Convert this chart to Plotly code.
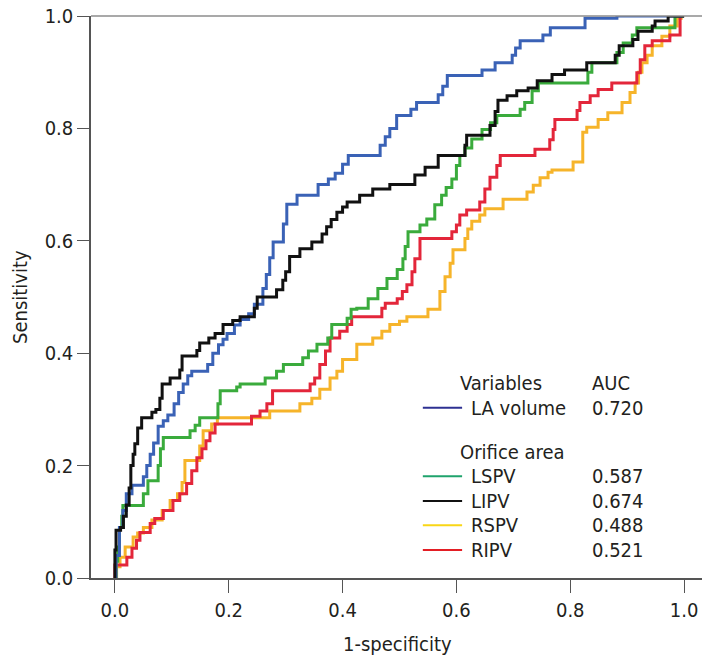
import plotly.graph_objects as go

# ROC curves: (1-specificity, sensitivity) corner points, drawn as steps
la_fpr = [0, 0.002, 0.008, 0.014, 0.02, 0.03, 0.05, 0.056, 0.062, 0.068, 0.076, 0.085, 0.093, 0.104, 0.112, 0.12, 0.128, 0.135, 0.163, 0.172, 0.182, 0.19, 0.197, 0.21, 0.22, 0.235, 0.245, 0.26, 0.266, 0.272, 0.278, 0.296, 0.302, 0.32, 0.357, 0.375, 0.387, 0.40, 0.41, 0.466, 0.475, 0.483, 0.495, 0.52, 0.53, 0.568, 0.576, 0.584, 0.645, 0.668, 0.698, 0.704, 0.712, 0.752, 0.765, 0.826, 0.882, 1.0]
la_tpr = [0, 0.04, 0.09, 0.12, 0.15, 0.165, 0.18, 0.2, 0.22, 0.24, 0.27, 0.28, 0.29, 0.31, 0.33, 0.345, 0.36, 0.368, 0.38, 0.40, 0.415, 0.425, 0.435, 0.45, 0.46, 0.47, 0.487, 0.515, 0.54, 0.57, 0.598, 0.63, 0.665, 0.681, 0.70, 0.71, 0.72, 0.736, 0.752, 0.77, 0.785, 0.80, 0.823, 0.834, 0.846, 0.86, 0.875, 0.894, 0.904, 0.917, 0.93, 0.943, 0.956, 0.966, 0.979, 0.996, 1.0, 1.0]

lspv_fpr = [0, 0.002, 0.005, 0.008, 0.012, 0.014, 0.05, 0.058, 0.076, 0.08, 0.085, 0.132, 0.141, 0.149, 0.181, 0.185, 0.214, 0.22, 0.264, 0.284, 0.296, 0.33, 0.34, 0.355, 0.374, 0.381, 0.408, 0.415, 0.425, 0.445, 0.462, 0.478, 0.496, 0.506, 0.51, 0.515, 0.536, 0.548, 0.562, 0.574, 0.582, 0.592, 0.60, 0.606, 0.615, 0.627, 0.645, 0.66, 0.671, 0.712, 0.72, 0.733, 0.744, 0.831, 0.838, 0.882, 0.893, 0.909, 0.917, 0.984, 1.0]
lspv_tpr = [0, 0.03, 0.055, 0.09, 0.11, 0.129, 0.15, 0.173, 0.20, 0.23, 0.25, 0.262, 0.272, 0.285, 0.31, 0.333, 0.34, 0.345, 0.356, 0.368, 0.38, 0.392, 0.404, 0.416, 0.427, 0.451, 0.462, 0.478, 0.48, 0.497, 0.515, 0.533, 0.549, 0.568, 0.59, 0.616, 0.628, 0.639, 0.664, 0.681, 0.695, 0.71, 0.734, 0.752, 0.765, 0.781, 0.798, 0.81, 0.823, 0.834, 0.846, 0.867, 0.881, 0.90, 0.917, 0.935, 0.952, 0.966, 0.979, 1.0, 1.0]

lipv_fpr = [0, 0.0, 0.002, 0.01, 0.015, 0.02, 0.025, 0.028, 0.032, 0.035, 0.04, 0.047, 0.065, 0.072, 0.079, 0.083, 0.097, 0.114, 0.118, 0.144, 0.149, 0.165, 0.176, 0.19, 0.207, 0.22, 0.245, 0.25, 0.284, 0.295, 0.30, 0.307, 0.325, 0.346, 0.364, 0.372, 0.38, 0.39, 0.40, 0.408, 0.43, 0.453, 0.483, 0.527, 0.545, 0.568, 0.615, 0.618, 0.659, 0.668, 0.673, 0.689, 0.706, 0.726, 0.742, 0.768, 0.79, 0.829, 0.879, 0.886, 0.91, 0.919, 0.944, 0.949, 0.972, 1.0]
lipv_tpr = [0, 0.05, 0.085, 0.09, 0.11, 0.13, 0.16, 0.2, 0.22, 0.239, 0.267, 0.285, 0.295, 0.30, 0.32, 0.345, 0.356, 0.37, 0.395, 0.405, 0.418, 0.427, 0.435, 0.451, 0.458, 0.465, 0.48, 0.50, 0.513, 0.53, 0.545, 0.572, 0.586, 0.598, 0.612, 0.625, 0.638, 0.651, 0.66, 0.669, 0.681, 0.692, 0.70, 0.717, 0.731, 0.752, 0.77, 0.788, 0.805, 0.83, 0.85, 0.858, 0.867, 0.872, 0.885, 0.896, 0.904, 0.917, 0.93, 0.947, 0.958, 0.973, 0.982, 0.991, 1.0, 1.0]

rspv_fpr = [0, 0.003, 0.009, 0.018, 0.032, 0.04, 0.05, 0.065, 0.083, 0.097, 0.11, 0.118, 0.123, 0.149, 0.155, 0.17, 0.18, 0.272, 0.325, 0.346, 0.36, 0.378, 0.39, 0.40, 0.425, 0.453, 0.469, 0.483, 0.5, 0.513, 0.55, 0.571, 0.58, 0.589, 0.594, 0.615, 0.62, 0.627, 0.641, 0.65, 0.682, 0.724, 0.735, 0.747, 0.761, 0.768, 0.805, 0.822, 0.829, 0.849, 0.866, 0.891, 0.905, 0.914, 0.92, 0.926, 0.935, 0.944, 0.961, 0.975, 0.988, 0.995, 1.0]
rspv_tpr = [0, 0.02, 0.037, 0.055, 0.073, 0.08, 0.09, 0.103, 0.12, 0.138, 0.15, 0.17, 0.209, 0.235, 0.262, 0.274, 0.285, 0.297, 0.31, 0.32, 0.336, 0.356, 0.368, 0.389, 0.416, 0.427, 0.439, 0.451, 0.457, 0.465, 0.478, 0.51, 0.536, 0.56, 0.584, 0.604, 0.621, 0.635, 0.646, 0.657, 0.674, 0.687, 0.699, 0.712, 0.722, 0.726, 0.74, 0.793, 0.802, 0.816, 0.828, 0.846, 0.864, 0.881, 0.90, 0.917, 0.93, 0.947, 0.964, 0.982, 0.996, 1.0, 1.0]

ripv_fpr = [0, 0.0, 0.021, 0.03, 0.038, 0.044, 0.062, 0.07, 0.085, 0.102, 0.114, 0.126, 0.135, 0.144, 0.153, 0.16, 0.167, 0.176, 0.24, 0.255, 0.267, 0.277, 0.343, 0.351, 0.36, 0.37, 0.378, 0.395, 0.408, 0.416, 0.469, 0.475, 0.496, 0.505, 0.513, 0.522, 0.527, 0.536, 0.592, 0.6, 0.606, 0.618, 0.641, 0.65, 0.659, 0.671, 0.677, 0.738, 0.764, 0.77, 0.773, 0.812, 0.817, 0.835, 0.849, 0.873, 0.917, 0.923, 0.931, 0.944, 0.975, 0.993, 1.0]
ripv_tpr = [0, 0.023, 0.037, 0.053, 0.067, 0.081, 0.097, 0.106, 0.12, 0.138, 0.15, 0.168, 0.191, 0.214, 0.23, 0.244, 0.258, 0.274, 0.288, 0.297, 0.31, 0.333, 0.345, 0.356, 0.38, 0.404, 0.427, 0.439, 0.451, 0.465, 0.48, 0.489, 0.497, 0.51, 0.522, 0.545, 0.568, 0.604, 0.616, 0.628, 0.646, 0.655, 0.669, 0.692, 0.713, 0.734, 0.752, 0.763, 0.78, 0.798, 0.816, 0.832, 0.846, 0.858, 0.869, 0.881, 0.899, 0.922, 0.947, 0.956, 0.966, 1.0, 1.0]

names = ["LA volume", "LSPV", "LIPV", "RSPV", "RIPV"]
auc = ["0.720", "0.587", "0.674", "0.488", "0.521"]
curve_colors = ["#3a62b6", "#3aab3c", "#111111", "#f6b42a", "#e3263a"]
legend_colors = ["#2e3192", "#1fa36c", "#111111", "#f9d616", "#e31e24"]
curves = [(la_fpr, la_tpr), (lspv_fpr, lspv_tpr), (lipv_fpr, lipv_tpr),
          (rspv_fpr, rspv_tpr), (ripv_fpr, ripv_tpr)]
ticks = [0, 0.2, 0.4, 0.6, 0.8, 1.0]
tick_text = ["0.0", "0.2", "0.4", "0.6", "0.8", "1.0"]

FONT = "DejaVu Sans Condensed, Liberation Sans Narrow, Roboto, sans-serif"
TXT = "#231f20"
FS = 20

fig = go.Figure()
# draw order: colored first, black and blue on top
for i in [3, 4, 1, 0, 2]:
    x, y = curves[i]
    fig.add_trace(go.Scatter(x=x, y=y, mode="lines", line_shape="hv",
                             line=dict(color=curve_colors[i], width=3),
                             name=names[i], showlegend=False))

# hand-built legend, positioned in data units
ann = []
shapes = []
col_name = 0.603
col_auc = 0.835
ann.append(dict(x=col_name, y=0.347, text="Variables", xanchor="left"))
ann.append(dict(x=col_auc, y=0.347, text="AUC", xanchor="left"))
ann.append(dict(x=col_name, y=0.225, text="Orifice area", xanchor="left"))
row_y = [0.303, 0.181, 0.137, 0.094, 0.05]
for i in range(5):
    ann.append(dict(x=0.622, y=row_y[i], text=names[i], xanchor="left"))
    ann.append(dict(x=col_auc, y=row_y[i], text=auc[i], xanchor="left"))
    shapes.append(dict(type="line", xref="x", yref="y", x0=0.541, x1=0.61,
                       y0=row_y[i], y1=row_y[i],
                       line=dict(color=legend_colors[i], width=2)))
for a in ann:
    a.update(xref="x", yref="y", yanchor="middle", showarrow=False,
             font=dict(family=FONT, size=FS, color=TXT))

# axis titles
ann.append(dict(x=0.5, y=0, xref="paper", yref="paper", yanchor="top", yshift=-52,
                text="1-specificity", showarrow=False,
                font=dict(family=FONT, size=FS, color=TXT)))
ann.append(dict(x=0, y=0.5, xref="paper", yref="paper", xanchor="right", xshift=-57,
                text="Sensitivity", textangle=-90, showarrow=False,
                font=dict(family=FONT, size=FS, color=TXT)))

# top and right frame lines (lighter than the axes)
shapes.append(dict(type="line", xref="paper", yref="paper", x0=0, x1=1, y0=1, y1=1,
                   line=dict(color="#8c8c8c", width=1.5)))
shapes.append(dict(type="line", xref="paper", yref="paper", x0=1, x1=1, y0=0, y1=1,
                   line=dict(color="#8c8c8c", width=1.5)))

# the page body adds an 8px margin, so the figure is sized to finish at the window edge
fig.update_layout(
    width=702, height=653,
    margin=dict(l=83, r=6, t=8, b=83),
    plot_bgcolor="white", paper_bgcolor="white",
    font=dict(family=FONT, size=FS, color=TXT),
    annotations=ann, shapes=shapes,
)
fig.update_xaxes(range=[-0.042, 1.035], tickvals=ticks, ticktext=tick_text,
                 showgrid=False, zeroline=False, showline=True, linecolor="#555555",
                 linewidth=1.5, ticks="outside", ticklen=13, tickcolor="#555555",
                 automargin=False, ticklabeloverflow="allow")
fig.update_yaxes(range=[0, 1.0], tickvals=ticks, ticktext=tick_text,
                 showgrid=False, zeroline=False, showline=True, linecolor="#555555",
                 linewidth=1.5, ticks="outside", ticklen=12, tickcolor="#555555",
                 automargin=False, ticklabeloverflow="allow")

fig.write_html("out.html")
